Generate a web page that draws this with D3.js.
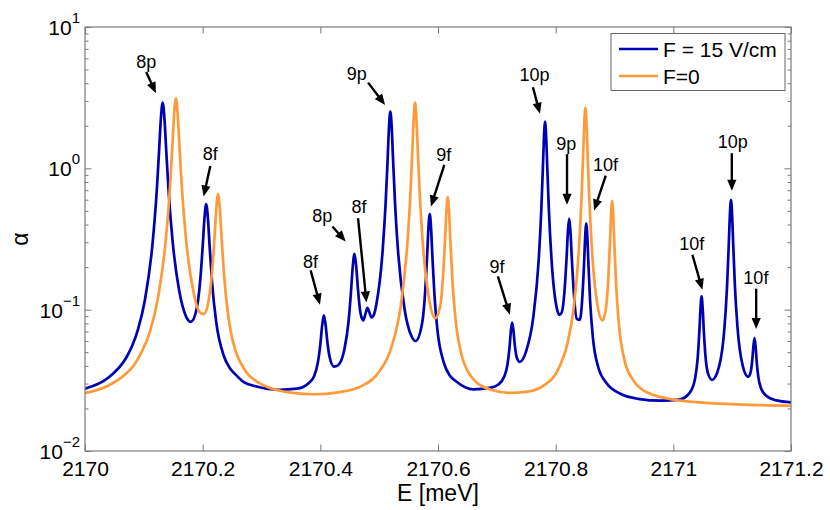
<!DOCTYPE html>
<html>
<head>
<meta charset="utf-8">
<script src="https://cdn.jsdelivr.net/npm/d3@7"></script>
<style>
  body { margin: 0; background: #fff; }
  text { font-family: "Liberation Sans", Arial, sans-serif; fill: #000; }
</style>
</head>
<body>
<svg id="chart"></svg>
<script>
// ---- data ----
const seriesNames = ['F = 15 V/cm', 'F=0'];

// F = 15 V/cm
const energyF15 = [2170.000, 2170.040, 2170.070, 2170.080, 2170.090, 2170.102, 2170.115, 2170.122, 2170.126, 2170.129, 2170.132,
  2170.135, 2170.138, 2170.142, 2170.149, 2170.160, 2170.172, 2170.180, 2170.189, 2170.196, 2170.200,
  2170.203, 2170.206, 2170.209, 2170.212, 2170.216, 2170.223, 2170.236, 2170.246, 2170.256, 2170.270, 2170.290, 2170.330,
  2170.360, 2170.380, 2170.389, 2170.396, 2170.400, 2170.403, 2170.406, 2170.409, 2170.412, 2170.416,
  2170.423, 2170.430, 2170.441, 2170.448, 2170.452, 2170.455, 2170.458, 2170.461, 2170.464, 2170.468,
  2170.473, 2170.477, 2170.480, 2170.483, 2170.487, 2170.491, 2170.495, 2170.506, 2170.511, 2170.5145,
  2170.517, 2170.519, 2170.521, 2170.5235, 2170.527, 2170.532, 2170.543, 2170.555, 2170.562, 2170.573,
  2170.578, 2170.5815, 2170.584, 2170.586, 2170.588, 2170.5905, 2170.594, 2170.599, 2170.610, 2170.620, 2170.630,
  2170.660, 2170.690, 2170.702, 2170.713, 2170.718, 2170.7215, 2170.724, 2170.726, 2170.728, 2170.7305,
  2170.734, 2170.739, 2170.750, 2170.762, 2170.771, 2170.7755, 2170.7783, 2170.780, 2170.782, 2170.784,
  2170.7857, 2170.7885, 2170.793, 2170.802, 2170.806, 2170.810, 2170.815, 2170.8185, 2170.821, 2170.823,
  2170.825, 2170.8275, 2170.831, 2170.836, 2170.841, 2170.8455, 2170.8483, 2170.850, 2170.852, 2170.854,
  2170.8557, 2170.8585, 2170.863, 2170.872, 2170.887, 2170.910, 2170.940, 2170.980, 2171.010, 2171.028,
  2171.037, 2171.0415, 2171.0443, 2171.046, 2171.048, 2171.050, 2171.0517, 2171.0545, 2171.059, 2171.066,
  2171.078, 2171.087, 2171.0915, 2171.0943, 2171.096, 2171.098, 2171.100, 2171.1017, 2171.1045, 2171.109,
  2171.118, 2171.127, 2171.1315, 2171.1343, 2171.136, 2171.138, 2171.140, 2171.1417, 2171.1445, 2171.149,
  2171.158, 2171.175, 2171.200];
const alphaF15 = [0.0276, 0.0331, 0.0457, 0.0553, 0.0723, 0.118, 0.299, 0.697, 1.35, 2.26, 2.92,
  2.26, 1.35, 0.699, 0.302, 0.137, 0.089, 0.082, 0.098, 0.164, 0.279,
  0.440, 0.558, 0.438, 0.273, 0.155, 0.082, 0.047, 0.0387, 0.0347, 0.0307, 0.0287, 0.0271,
  0.0276, 0.0302, 0.0335, 0.0427, 0.0569, 0.0767, 0.091, 0.0778, 0.0588, 0.0459,
  0.0396, 0.0404, 0.0526, 0.0828, 0.132, 0.199, 0.248, 0.202, 0.139, 0.096,
  0.084, 0.0945, 0.103, 0.0966, 0.088, 0.092, 0.108, 0.265, 0.569, 1.19,
  2.065, 2.52, 2.065, 1.19, 0.565, 0.262, 0.102, 0.0648, 0.060, 0.080,
  0.131, 0.240, 0.393, 0.474, 0.391, 0.237, 0.126, 0.072, 0.042, 0.0342, 0.0313,
  0.0273, 0.0281, 0.0294, 0.0339, 0.0408, 0.0537, 0.0716, 0.081, 0.0727, 0.0564,
  0.0457, 0.0427, 0.0511, 0.089, 0.220, 0.50, 1.02, 1.62, 2.14, 1.62,
  1.024, 0.504, 0.225, 0.102, 0.092, 0.095, 0.135, 0.231, 0.368, 0.441,
  0.366, 0.228, 0.129, 0.086, 0.0845, 0.126, 0.214, 0.318, 0.407, 0.315,
  0.209, 0.116, 0.065, 0.0396, 0.030, 0.0254, 0.0234, 0.0227, 0.0231, 0.0259,
  0.0326, 0.0462, 0.0711, 0.0994, 0.124, 0.100, 0.072, 0.0477, 0.0353, 0.0319,
  0.040, 0.0754, 0.152, 0.294, 0.457, 0.599, 0.457, 0.295, 0.152, 0.0754,
  0.040, 0.0335, 0.0363, 0.0446, 0.0545, 0.063, 0.0537, 0.0429, 0.0333, 0.0278,
  0.0246, 0.0228, 0.0221];

// F = 0
const energyF0 = [2170.000, 2170.040, 2170.070, 2170.082, 2170.095, 2170.110, 2170.1245, 2170.1375, 2170.1445, 2170.1485, 2170.1515,
  2170.1545, 2170.1575, 2170.1605, 2170.1645, 2170.1715, 2170.1845, 2170.195, 2170.202, 2170.2092, 2170.2162,
  2170.2202, 2170.2232, 2170.2262, 2170.2292, 2170.2322, 2170.2362, 2170.2432, 2170.2562, 2170.266, 2170.276, 2170.290, 2170.310,
  2170.350, 2170.390, 2170.430, 2170.470, 2170.500, 2170.520, 2170.537, 2170.548, 2170.553, 2170.5565,
  2170.559, 2170.561, 2170.563, 2170.5655, 2170.569, 2170.574, 2170.585, 2170.595, 2170.6035, 2170.6085,
  2170.612, 2170.6145, 2170.6165, 2170.6185, 2170.621, 2170.6245, 2170.6295, 2170.6405, 2170.650, 2170.660, 2170.690,
  2170.720, 2170.750, 2170.780, 2170.805, 2170.8205, 2170.8305, 2170.8395, 2170.844, 2170.8468, 2170.8485,
  2170.8505, 2170.8525, 2170.8542, 2170.857, 2170.8615, 2170.8705, 2170.8795, 2170.885, 2170.8895, 2170.8923,
  2170.894, 2170.896, 2170.898, 2170.8997, 2170.9025, 2170.907, 2170.916, 2170.931, 2170.945, 2170.960, 2171.000,
  2171.050, 2171.120, 2171.200];
const alphaF0 = [0.0257, 0.0291, 0.0354, 0.0398, 0.049, 0.069, 0.124, 0.318, 0.743, 1.44, 2.414,
  3.124, 2.416, 1.443, 0.745, 0.322, 0.133, 0.096, 0.093, 0.111, 0.189,
  0.326, 0.518, 0.658, 0.515, 0.319, 0.179, 0.092, 0.0506, 0.041, 0.0353, 0.0314, 0.0284,
  0.0259, 0.0252, 0.026, 0.0288, 0.0364, 0.053, 0.109, 0.297, 0.648, 1.371,
  2.38, 2.915, 2.38, 1.372, 0.65, 0.30, 0.118, 0.087, 0.105, 0.171,
  0.315, 0.518, 0.626, 0.516, 0.31, 0.161, 0.088, 0.047, 0.037, 0.0323, 0.0271,
  0.0258, 0.0262, 0.0291, 0.0383, 0.0587, 0.1025, 0.268, 0.624, 1.282, 2.034,
  2.691, 2.035, 1.284, 0.626, 0.272, 0.111, 0.084, 0.0995, 0.167, 0.301,
  0.455, 0.589, 0.452, 0.2955, 0.158, 0.0825, 0.0456, 0.032, 0.0276, 0.0255, 0.0231,
  0.022, 0.0213, 0.0209];

const xTicks = [2170, 2170.2, 2170.4, 2170.6, 2170.8, 2171, 2171.2];
const yDecades = [1e-2, 1e-1, 1e0, 1e1];
const yExponents = ['\u22122', '\u22121', '0', '1'];

// peak annotations: label, text centre, arrow tail, arrow tip (E, alpha)
const noteLabels = ['8p', '8f', '8f', '8p', '8f', '9p', '9f', '10p', '9p', '10f', '9f', '10f', '10p', '10f'];
const noteText = [[2170.104, 5.66], [2170.213, 1.266], [2170.3835, 0.2195], [2170.4034, 0.464], [2170.4658, 0.537],
  [2170.4619, 4.71], [2170.6097, 1.246], [2170.7641, 4.58], [2170.8181, 1.507], [2170.8846, 1.059],
  [2170.7005, 0.2023], [2171.0312, 0.2927], [2171.1011, 1.547], [2171.1403, 0.1675]];
const noteTail = [[2170.104, 4.81], [2170.213, 1.04], [2170.3835, 0.1895], [2170.4205, 0.388], [2170.4641, 0.445],
  [2170.4812, 4.04], [2170.6107, 1.059], [2170.7614, 3.75], [2170.8193, 1.26], [2170.8851, 0.889],
  [2170.7017, 0.172], [2171.0324, 0.2447], [2171.0994, 1.28], [2171.1408, 0.1407]];
const noteHead = [[2170.1205, 3.40], [2170.2016, 0.632], [2170.3994, 0.1085], [2170.4432, 0.304], [2170.4784, 0.1126],
  [2170.5101, 2.81], [2170.588, 0.537], [2170.7733, 2.43], [2170.8193, 0.552], [2170.8653, 0.503],
  [2170.7222, 0.0922], [2171.0494, 0.1384], [2171.0994, 0.693], [2171.1408, 0.073]];

// ---- layout ----
const W = 830, H = 510;
const margin = { top: 27, right: 39, bottom: 59, left: 85 };
const width = W - margin.left - margin.right;
const height = H - margin.top - margin.bottom;
const colors = ['#0000b4', '#ff9a3a'];
const axisColor = '#7a7a7a';

const svg = d3.select('#chart').attr('width', W).attr('height', H);

const x = d3.scaleLinear().domain([2170, 2171.2]).range([margin.left, margin.left + width]);
const y = d3.scaleLog().domain([1e-2, 1e1]).range([margin.top + height, margin.top]);

// minor ticks of the log axis
let minorTicks = [];
for (let k = 0; k < yDecades.length - 1; k++) {
  for (let m = 2; m <= 9; m++) minorTicks.push(yDecades[k] * m);
}

// curves
const line = d3.line()
  .x(d => x(d[0]))
  .y(d => y(d[1]))
  .curve(d3.curveMonotoneX);

svg.append('defs').append('clipPath').attr('id', 'plotClip')
  .append('rect')
  .attr('x', margin.left).attr('y', margin.top)
  .attr('width', width).attr('height', height);

const series = [
  d3.zip(energyF15, alphaF15),
  d3.zip(energyF0, alphaF0)
];

svg.append('g').attr('clip-path', 'url(#plotClip)')
  .selectAll('path')
  .data(series)
  .join('path')
  .attr('d', line)
  .attr('fill', 'none')
  .attr('stroke', (d, i) => colors[i])
  .attr('stroke-width', 2.7)
  .attr('stroke-linejoin', 'round');

// axes (MATLAB style box with inward ticks)
const xBottom = svg.append('g')
  .attr('transform', `translate(0,${margin.top + height})`)
  .call(d3.axisBottom(x).tickValues(xTicks).tickSizeInner(-6.5).tickSizeOuter(0).tickPadding(10)
    .tickFormat(d => String(+d.toFixed(1))));
const xTop = svg.append('g')
  .attr('transform', `translate(0,${margin.top})`)
  .call(d3.axisTop(x).tickValues(xTicks).tickSizeInner(-6.5).tickSizeOuter(0).tickFormat(''));

[xBottom, xTop].forEach(g => {
  g.select('.domain').remove();
  g.selectAll('.tick line').attr('stroke', axisColor);
  g.selectAll('.tick text').style('font-size', '21px').style('font-family', '"Liberation Sans", Arial, sans-serif').attr('fill', '#000');
});

const yLeft = svg.append('g').attr('transform', `translate(${margin.left},0)`);
const yRight = svg.append('g').attr('transform', `translate(${margin.left + width},0)`);

yLeft.call(d3.axisLeft(y).tickValues(yDecades).tickSizeInner(-6.5).tickSizeOuter(0).tickFormat(''));
yLeft.append('g').call(d3.axisLeft(y).tickValues(minorTicks).tickSizeInner(-3.5).tickSizeOuter(0).tickFormat(''));
yRight.call(d3.axisRight(y).tickValues(yDecades).tickSizeInner(-6.5).tickSizeOuter(0).tickFormat(''));
yRight.append('g').call(d3.axisRight(y).tickValues(minorTicks).tickSizeInner(-3.5).tickSizeOuter(0).tickFormat(''));
[yLeft, yRight].forEach(g => {
  g.selectAll('.domain').remove();
  g.selectAll('.tick line').attr('stroke', axisColor);
});

// y tick labels 10^k
const yLab = svg.append('g').selectAll('text')
  .data(yDecades)
  .join('text')
  .attr('x', margin.left - 5)
  .attr('y', d => y(d) + 8)
  .attr('text-anchor', 'end')
  .style('font-size', '21px');
yLab.append('tspan').text('10');
yLab.append('tspan')
  .attr('dy', -12)
  .style('font-size', '15px')
  .text((d, i) => yExponents[i]);

// frame
svg.append('rect')
  .attr('x', margin.left).attr('y', margin.top)
  .attr('width', width).attr('height', height)
  .attr('fill', 'none')
  .attr('stroke', axisColor)
  .attr('stroke-width', 1.2);

// axis labels
svg.append('text')
  .attr('x', margin.left + width / 2)
  .attr('y', margin.top + height + 50)
  .attr('text-anchor', 'middle')
  .style('font-size', '23px')
  .text('E [meV]');

svg.append('text')
  .attr('transform', `translate(28,${margin.top + height / 2}) rotate(-90)`)
  .attr('text-anchor', 'middle')
  .style('font-size', '23px')
  .text('\u03b1');

// annotations
const notes = svg.append('g');
noteLabels.forEach((lab, i) => {
  const x0 = x(noteTail[i][0]), y0 = y(noteTail[i][1]);
  const x1 = x(noteHead[i][0]), y1 = y(noteHead[i][1]);
  const ang = Math.atan2(y1 - y0, x1 - x0);
  const hl = 11, hw = 4.6;
  const bx = x1 - hl * Math.cos(ang), by = y1 - hl * Math.sin(ang);
  notes.append('line')
    .attr('x1', x0).attr('y1', y0).attr('x2', bx + 1 * Math.cos(ang)).attr('y2', by + 1 * Math.sin(ang))
    .attr('stroke', '#000').attr('stroke-width', 2.4);
  notes.append('path')
    .attr('d', `M${x1},${y1}L${bx - hw * Math.sin(ang)},${by + hw * Math.cos(ang)}L${bx + hw * Math.sin(ang)},${by - hw * Math.cos(ang)}Z`)
    .attr('fill', '#000');
  notes.append('text')
    .attr('x', x(noteText[i][0]))
    .attr('y', y(noteText[i][1]))
    .attr('dy', '0.36em')
    .attr('text-anchor', 'middle')
    .style('font-size', '18px')
    .text(lab);
});

// legend
const lgX = margin.left + width - 180, lgY = margin.top + 6.5;
const legend = svg.append('g').attr('transform', `translate(${lgX},${lgY})`);
legend.append('rect')
  .attr('width', 174).attr('height', 57)
  .attr('fill', '#fff')
  .attr('stroke', '#666')
  .attr('stroke-width', 1);
seriesNames.forEach((name, i) => {
  const ly = 15.5 + i * 27;
  legend.append('line')
    .attr('x1', 8).attr('x2', 47).attr('y1', ly).attr('y2', ly)
    .attr('stroke', colors[i]).attr('stroke-width', 2.7);
  legend.append('text')
    .attr('x', 52).attr('y', ly + 7.5)
    .style('font-size', '21px')
    .text(name);
});
</script>
</body>
</html>
